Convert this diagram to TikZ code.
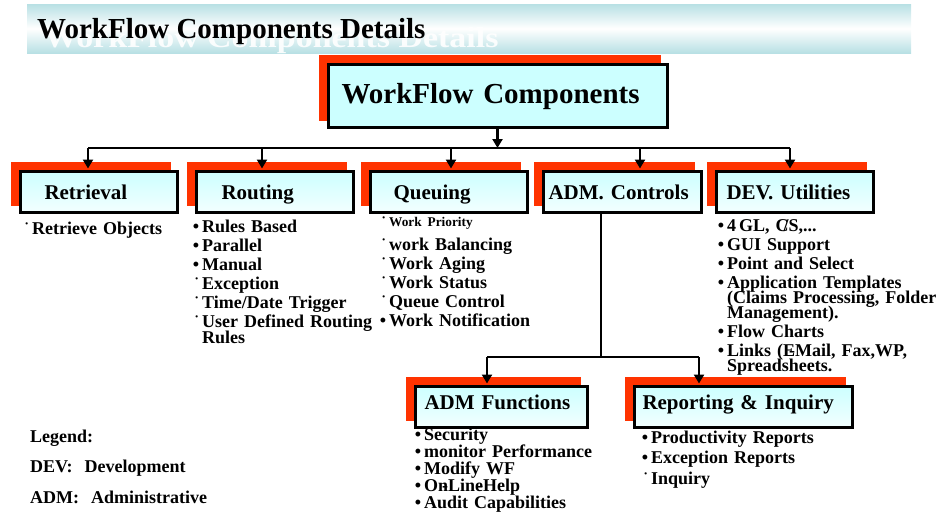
\documentclass[tikz,border=0pt]{standalone}
\usepackage{fontspec}
\setmainfont{Liberation Serif}
\usepackage{graphicx}
\usepackage{tikz}
\usetikzlibrary{arrows.meta}
\usetikzlibrary{shadows}

\definecolor{shadowred}{HTML}{FF3300}
\definecolor{boxcyan}{HTML}{CCFFFF}
\definecolor{bannerteal}{HTML}{B8E0E4}

\newcommand{\bul}{\noindent\llap{\textbullet\hspace{3pt}}}
\newcommand{\sbul}{\noindent\llap{\raisebox{0.42em}{\fontsize{8pt}{8pt}\selectfont\textbullet}\hspace{4pt}}}

\begin{document}
\begin{tikzpicture}[x=1pt, y=-1pt,
    >={Triangle[width=10pt,length=9pt]},
    link/.style={line width=2.5pt},
    bus/.style={line width=2pt},
    compbox/.style={draw, line width=3pt, top color=boxcyan, bottom color=boxcyan!25,
        general shadow={fill=shadowred, draw=shadowred, line width=3pt,
            shadow xshift=-8pt, shadow yshift=8pt},
        anchor=north west, align=left, inner ysep=2pt,
        text height=26.5pt, text depth=10.5pt,
        font=\fontsize{21pt}{23pt}\selectfont\bfseries},
    lowbox/.style={compbox, text height=21.5pt, text depth=15.5pt},
    items/.style={anchor=base west, inner sep=0pt, align=left, text width=#1,
        font=\fontsize{18pt}{19pt}\selectfont\bfseries}
]
    \useasboundingbox (0,0) rectangle (942,512);

    % Title banner
    \shade[top color=bannerteal, bottom color=bannerteal, middle color=white] (27,4) rectangle (911,53);
    \node[anchor=base west, inner sep=0pt, white, opacity=0.9,
        font=\fontsize{29pt}{30pt}\selectfont\bfseries] (titleglow) at (44,47)
        {\scalebox{1.17}[1]{WorkFlow Components Details}};
    \node[anchor=base west, inner sep=0pt,
        font=\fontsize{29pt}{30pt}\selectfont\bfseries] (title) at (37,38) {WorkFlow Components Details};

    % Draw the boxes
    \node[compbox, top color=boxcyan, bottom color=boxcyan, inner xsep=13.5pt, text width=312pt,
        text height=37.5pt, text depth=21.5pt,
        font=\fontsize{29pt}{30pt}\selectfont\bfseries] (main) at (326.5,62.5) {WorkFlow Components};

    \node[compbox, inner xsep=24.5pt, text width=108pt] (retrieval) at (18.5,169.5) {Retrieval};
    \node[compbox, inner xsep=25.5pt, text width=106pt] (routing) at (194.5,169.5) {Routing};
    \node[compbox, inner xsep=23.5pt, text width=110pt] (queuing) at (368.5,169.5) {Queuing};
    \node[compbox, inner xsep=5.5pt, text width=147pt] (admctl) at (541.5,169.5) {ADM. Controls};
    \node[compbox, inner xsep=10.5pt, text width=136pt] (devutil) at (714.5,169.5) {DEV. Utilities};

    \node[lowbox, inner xsep=9.5pt, text width=153pt] (admfun) at (413.5,384.5) {ADM Functions};
    \node[lowbox, inner xsep=8.5pt, text width=201pt] (report) at (632.5,384.5) {Reporting \& Inquiry};

    % Draw the connectors
    \coordinate (b1) at (88,148);
    \coordinate (b2) at (262,148);
    \coordinate (b3) at (451,148);
    \coordinate (b4) at (640,148);
    \coordinate (b5) at (790,148);
    \draw[link,->] (main.south) -- (main.south |- b1);
    \draw[bus] (b1) -- (b5);
    \foreach \c/\n in {b1/retrieval, b2/routing, b3/queuing, b4/admctl, b5/devutil}
        \draw[link,->,shorten >=1pt] (\c) -- (\c |- \n.north);

    \coordinate (a0) at (601,357);
    \coordinate (a1) at (487,357);
    \coordinate (a2) at (699,357);
    \draw[link] (admctl.south -| a0) -- (a0);
    \draw[bus] (a1) -- (a2);
    \draw[link,->,shorten >=1pt] (a1) -- (a1 |- admfun.north);
    \draw[link,->,shorten >=1pt] (a2) -- (a2 |- report.north);

    % Item lists
    \node[items=150pt] (retrievelist) at (32,234) {\sbul Retrieve Objects};
    \node[items=175pt] (routinglist) at (202,232) {\bul Rules Based\\ \bul Parallel\\ \bul Manual\\
        \sbul Exception\\ \sbul Time/Date Trigger\\ \sbul User Defined Routing\\[-3pt] Rules};
    \node[items=175pt] (queuinglist) at (389,226) {{\fontsize{13.3pt}{19pt}\selectfont\sbul Work Priority}\\[5pt]
        \sbul work Balancing\\ \sbul Work Aging\\ \sbul Work Status\\ \sbul Queue Control\\ \bul Work Notification};
    \node[items=215pt] (devlist) at (727,231) {\bul 4\,GL, C\llap{/}S,...\\ \bul GUI Support\\ \bul Point and Select\\
        \bul Application Templates\\[-4pt] (Claims Processing, Folder\\[-4pt] Management).\\
        \bul Flow Charts\\ \bul Links (E\llap{-}Mail, Fax,WP,\\[-4pt] Spreadsheets.};
    \node[items=190pt, font=\fontsize{18pt}{17pt}\selectfont\bfseries] (admlist) at (424,440)
        {\bul Security\\ \bul monitor Performance\\ \bul Modify WF\\ \bul On\llap{-}Line\llap{-}Help\\ \bul Audit Capabilities};
    \node[items=210pt, font=\fontsize{18pt}{20.5pt}\selectfont\bfseries] (reportlist) at (651,443)
        {\bul Productivity Reports\\ \bul Exception Reports\\ \sbul Inquiry};

    % Legend
    \node[items=250pt, font=\fontsize{18pt}{30.5pt}\selectfont\bfseries] (legend) at (30,442)
        {Legend:\\ DEV:\ \ Development\\ ADM:\ \ Administrative};
\end{tikzpicture}
\end{document}
